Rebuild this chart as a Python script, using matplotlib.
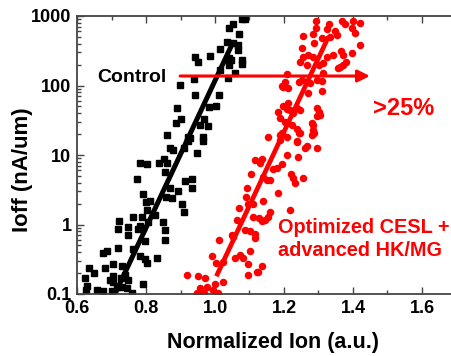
import matplotlib
matplotlib.use("Agg")
import matplotlib.pyplot as plt
import numpy as np
from matplotlib.ticker import FixedLocator, NullFormatter, LogLocator

plt.rcParams['font.family'] = ['Liberation Sans', 'DejaVu Sans']
plt.rcParams['font.weight'] = 'bold'

# ---------------- data ----------------
control_x = [1.079, 1.087, 1.051, 1.041, 1.070, 1.034, 1.053, 1.066, 1.014, 1.068,
             0.942, 0.952, 0.986, 1.040, 1.040, 1.045, 1.077, 1.079, 1.014, 1.058,
             1.039, 0.940, 0.899, 0.943, 1.012, 0.889, 0.983, 1.002, 0.900, 0.887,
             0.968, 0.957, 0.981, 0.862, 0.923, 0.966, 0.870, 0.910, 0.928,
             0.923, 0.966, 0.879, 0.949, 0.783, 0.802, 0.839, 0.852, 0.862, 0.855,
             0.773, 0.913, 0.932, 0.870, 0.894, 0.934, 0.790, 0.858, 0.874, 0.800,
             0.812, 0.903, 0.804, 0.911, 0.826, 0.761, 0.788, 0.807, 0.848, 0.723,
             0.783, 0.792, 0.778, 0.718, 0.749, 0.855, 0.749, 0.797, 0.855, 0.763,
             0.720, 0.674, 0.686, 0.783, 0.797, 0.802, 0.831, 0.705, 0.636, 0.650,
             0.681, 0.730, 0.705, 0.696, 0.728, 0.749, 0.739, 0.623, 0.792, 0.730,
             0.744, 0.626, 0.657, 0.676, 0.700, 0.715, 0.758, 0.705, 0.630]
control_y = [897, 897, 767, 665, 546, 427, 405, 383, 335, 324,
             260, 215, 266, 250, 200, 230, 233, 204, 167, 153,
             130, 124, 102, 73, 73, 47, 48.6, 51, 33, 28.6,
             33, 27, 26, 19.4, 18, 18, 12.6, 12.6, 17.7,
             15.9, 15.9, 11.8, 10.6, 7.75, 7.4, 7.75, 8.9, 7.75, 5.76,
             4.5, 4.2, 4.5, 3.4, 3.0, 3.4, 2.75, 2.5, 2.4, 2.13,
             2.2, 2.0, 1.6, 1.5, 1.36, 1.28, 1.28, 1.1, 1.1, 1.12,
             0.95, 0.9, 0.87, 0.86, 0.93, 0.82, 0.71, 0.57, 0.6, 0.45,
             0.46, 0.39, 0.41, 0.35, 0.32, 0.28, 0.33, 0.27, 0.24, 0.2,
             0.24, 0.25, 0.18, 0.16, 0.17, 0.16, 0.19, 0.17, 0.14, 0.127,
             0.12, 0.113, 0.115, 0.11, 0.11, 0.127, 0.105, 0.15, 0.13]

opt_x = [1.293, 1.329, 1.367, 1.377, 1.399, 1.420, 1.293, 1.324, 1.348, 1.396,
         1.406, 1.254, 1.285, 1.309, 1.333, 1.353, 1.287, 1.420, 1.251, 1.365,
         1.396, 1.372, 1.343, 1.324, 1.270, 1.283, 1.256, 1.246, 1.266, 1.300,
         1.314, 1.380, 1.372, 1.357, 1.362, 1.208, 1.203, 1.244, 1.251, 1.314,
         1.309, 1.275, 1.295, 1.198, 1.213, 1.193, 1.270, 1.309, 1.198, 1.208,
         1.213, 1.183, 1.227, 1.237, 1.295, 1.300, 1.295, 1.188, 1.203, 1.222,
         1.237, 1.246, 1.285, 1.283, 1.287, 1.154, 1.188, 1.208, 1.237, 1.266,
         1.295, 1.217, 1.246, 1.304, 1.280, 1.280, 1.244, 1.193,
         1.188, 1.237, 1.261, 1.208, 1.241, 1.116, 1.135, 1.130, 1.193, 1.179,
         1.169, 1.104, 1.159, 1.220, 1.225, 1.232, 1.254, 1.092, 1.183, 1.097,
         1.140, 1.070, 1.217, 1.159, 1.111, 1.128, 1.145, 1.135, 1.154, 1.063,
         1.087, 1.101, 1.048, 1.116, 1.012, 1.101, 0.990, 1.072, 1.058, 1.080,
         1.024, 1.003, 1.135, 1.125, 1.097, 1.097, 0.918, 0.952, 0.971, 1.024,
         1.000, 0.976, 0.957, 0.995, 0.947, 0.967, 1.010, 1.111, 1.090, 1.053,
         1.116, 1.121, 1.140, 1.150]
opt_y = [855, 767, 855, 767, 855, 800, 665, 644, 615, 665,
         563, 516, 545, 478, 505, 530, 414, 383, 343, 317,
         296, 275, 275, 260, 275, 254, 260, 215, 197, 197,
         208, 220, 197, 177, 186, 147, 114, 114, 120, 153,
         118, 108, 120, 94, 91, 98, 79, 84, 51, 45.6,
         56, 41.7, 40, 47, 47, 41.7, 36, 34, 30, 27,
         23.9, 20.5, 27, 23, 20.5, 18.3, 19.4, 18.3, 16, 13.4,
         12.8, 44, 44, 37.5, 28.5, 19.4, 21, 20.5,
         16.5, 15.5, 12.7, 10, 9.4, 8.5, 8.9, 7.6, 7.4, 6.4,
         6.2, 5.3, 4.4, 5.3, 4.7, 4.0, 4.6, 3.3, 2.85, 2.0,
         2.2, 1.7, 1.6, 1.5, 1.3, 1.24, 1.15, 1.12, 1.27, 1.15,
         0.83, 0.8, 0.7, 0.74, 0.6, 0.42, 0.35, 0.36, 0.33, 0.33,
         0.29, 0.28, 0.25, 0.21, 0.27, 0.19, 0.19, 0.18, 0.17, 0.148,
         0.14, 0.128, 0.12, 0.115, 0.102, 0.102, 0.102, 2.0, 2.5, 0.66,
         0.65, 0.21, 4.9, 4.4]

control_fit_x = [0.710, 1.053]
control_fit_y = [0.1, 427]
opt_fit_x = [1.004, 1.329]
opt_fit_y = [0.18, 505]

arrow_x = [0.899, 1.449]
arrow_y = 137

x_ticks = [0.6, 0.8, 1.0, 1.2, 1.4, 1.6]
x_ticklabels = ['0.6', '0.8', '1.0', '1.2', '1.4', '1.6']
y_ticks = [0.1, 1, 10, 100, 1000]
y_ticklabels = ['0.1', '1', '10', '100', '1000']

# ---------------- figure ----------------
fig = plt.figure(figsize=(4.51, 3.56), dpi=100)
ax = fig.add_axes([77/451, 62/356, 1 - 77/451, 278/356])

ax.plot(control_x, control_y, linestyle='none', marker='s', markersize=4.3,
        color='black', clip_on=True)
ax.plot(opt_x, opt_y, linestyle='none', marker='o', markersize=5.4,
        color='#ff0000', markeredgewidth=0, clip_on=True)
ax.plot(control_fit_x, control_fit_y, color='black', lw=3.6, solid_capstyle='butt')
ax.plot(opt_fit_x, opt_fit_y, color='#ff0000', lw=3.4, solid_capstyle='butt')

ax.annotate('', xy=(arrow_x[1], arrow_y), xytext=(arrow_x[0], arrow_y),
            arrowprops=dict(arrowstyle='-|>', color='#ff0000', lw=2.2,
                            mutation_scale=18, shrinkA=0, shrinkB=0))

ax.set_yscale('log')
ax.set_xlim(0.6, 0.6 + (451 - 77) / 345)
ax.set_ylim(0.1, 1000)

ax.xaxis.set_major_locator(FixedLocator(x_ticks))
ax.set_xticklabels(x_ticklabels)
ax.xaxis.set_minor_locator(FixedLocator(np.arange(0.7, 1.7, 0.2)))
ax.yaxis.set_major_locator(FixedLocator(y_ticks))
ax.set_yticklabels(y_ticklabels)
ax.yaxis.set_minor_locator(LogLocator(base=10, subs=np.arange(2, 10)))
ax.yaxis.set_minor_formatter(NullFormatter())

spine_col = '#444444'
for s in ['left', 'bottom', 'top']:
    ax.spines[s].set_color(spine_col)
    ax.spines[s].set_linewidth(1.3)
ax.spines['right'].set_visible(False)

ax.tick_params(which='both', direction='in', top=True, right=False,
               color=spine_col, width=1.0)
ax.tick_params(which='major', length=5, labelsize=13, pad=4)
ax.tick_params(which='minor', length=3)
for lab in ax.get_xticklabels() + ax.get_yticklabels():
    lab.set_fontweight('bold')

ax.set_xlabel('Normalized Ion (a.u.)', fontsize=15.5, fontweight='bold')
ax.xaxis.set_label_coords(0.524, -0.135)
ax.set_ylabel('Ioff (nA/um)', fontsize=16, fontweight='bold')
ax.yaxis.set_label_coords(-0.118, 0.448)

ax.text(0.76, 132, 'Control', fontsize=14, fontweight='bold', color='black',
        ha='center', va='center')
ax.text(1.546, 46, '>25%', fontsize=17, fontweight='bold', color='#ff0000',
        ha='center', va='center')
ax.text(1.183, 0.62, 'Optimized CESL +\nadvanced HK/MG', fontsize=14.3,
        fontweight='bold', color='#ff0000', ha='left', va='center',
        linespacing=1.3)

fig.savefig('out.png', dpi=100)
